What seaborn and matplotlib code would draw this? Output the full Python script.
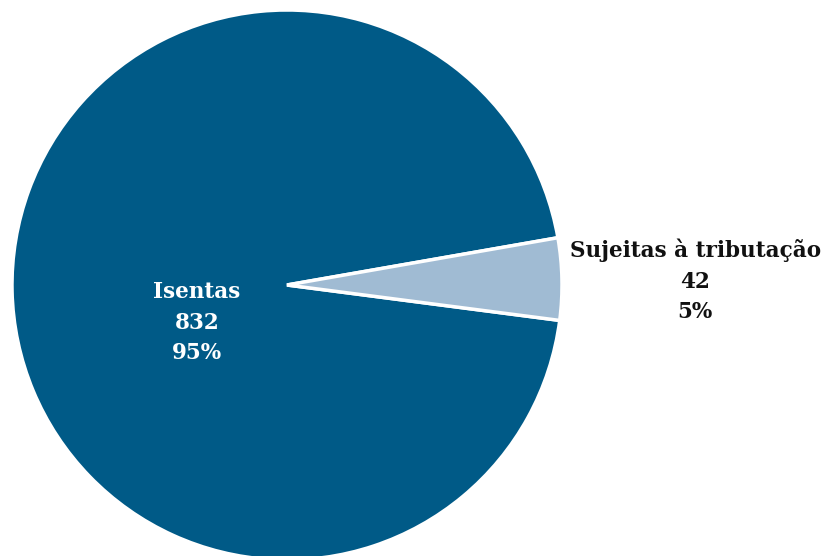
import matplotlib
matplotlib.use("Agg")
import matplotlib.pyplot as plt
import seaborn as sns

categories = ["Isentas", "Sujeitas à tributação"]
values = [832, 42]
percents = ["95%", "5%"]
colors = ["#005A87", "#A0BBD3"]

sns.set_theme(style="white")
plt.rcParams['font.family'] = ['DejaVu Serif']

W, H = 823, 556
fig = plt.figure(figsize=(W / 100, H / 100), dpi=100)
cx, cy, r = 287, 556 - 285, 275
ax = fig.add_axes([(cx - r) / W, (cy - r) / H, 2 * r / W, 2 * r / H])

start = 9.9
wedges, _ = ax.pie(values, colors=colors, startangle=start, counterclock=True,
                   wedgeprops=dict(edgecolor="white", linewidth=2.5), radius=1.0)
ax.set_xlim(-1, 1)
ax.set_ylim(-1, 1)
ax.axis("off")

ax.text(-0.327, -0.138, f"{categories[0]}\n{values[0]}\n{percents[0]}",
        ha="center", va="center", color="white", fontsize=15.5,
        fontweight="heavy", linespacing=1.5)
ax.text(1.484, 0.015, f"{categories[1]}\n{values[1]}\n{percents[1]}",
        ha="center", va="center", color="#111111", fontsize=15.5,
        fontweight="heavy", linespacing=1.5, clip_on=False)

fig.savefig("out.png", dpi=100)
